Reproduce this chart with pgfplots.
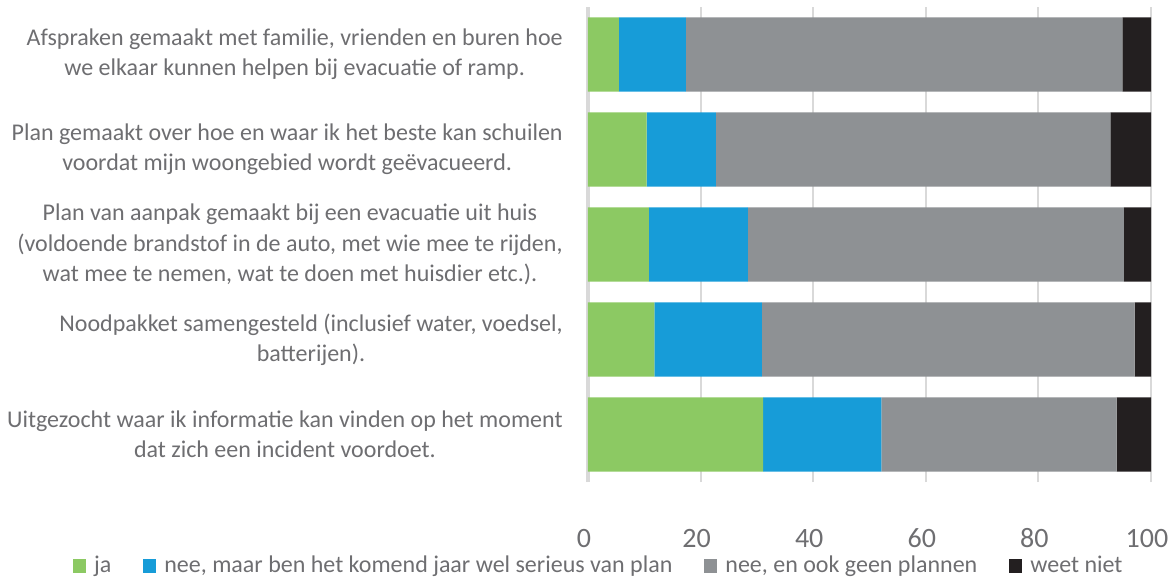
\documentclass[border=0pt]{standalone}
\usepackage{fontspec}
\setmainfont{Carlito}
\usepackage{pgfplots}
\pgfplotsset{compat=1.18}
\definecolor{cja}{HTML}{8CC963}
\definecolor{cplan}{HTML}{179CD8}
\definecolor{cgeen}{HTML}{8E9194}
\definecolor{cweet}{HTML}{231F20}
\definecolor{txt}{HTML}{6E6E71}
\definecolor{gridc}{HTML}{D9D9D9}
\begin{document}
\begin{tikzpicture}
\useasboundingbox (-294pt,-48pt) rectangle (291pt,241pt);
\begin{axis}[
  at={(0,0)}, anchor=south west,
  scale only axis, width=281.5pt, height=237.5pt,
  xbar stacked, bar width=0.78,
  xmin=0, xmax=100, ymin=-0.5, ymax=4.5,
  xtick={0,20,...,100}, ytick={0,...,4},
  yticklabels={
    {Uitgezocht waar ik informatie kan vinden op het moment\\dat zich een incident voordoet.},
    {Noodpakket samengesteld (inclusief water, voedsel,\\batterijen).},
    {Plan van aanpak gemaakt bij een evacuatie uit huis\\(voldoende brandstof in de auto, met wie mee te rijden,\\wat mee te nemen, wat te doen met huisdier etc.).},
    {Plan gemaakt over hoe en waar ik het beste kan schuilen\\voordat mijn woongebied wordt geëvacueerd.},
    {Afspraken gemaakt met familie, vrienden en buren hoe\\we elkaar kunnen helpen bij evacuatie of ramp.}},
  axis line style={draw=none},
  major tick length=0pt,
  xmajorgrids, grid style={gridc, line width=1pt},
  extra x ticks={0}, extra x tick labels={},
  extra x tick style={grid style={gridc, line width=1.6pt}},
  /pgf/number format/assume math mode=true,
  xticklabel style={font=\fontsize{14}{14}\selectfont, text=txt, anchor=base, yshift=-32.5pt, xshift=-2pt},
  yticklabel style={font=\fontsize{12}{15.2}\selectfont, text=txt, align=center, anchor=east, inner sep=0pt, xshift=-12.5pt},
  legend style={at={(0.021,-0.177)}, anchor=center, legend columns=4, draw=none, fill=none,
    font=\fontsize{12}{13}\selectfont, text=txt,
    /tikz/every odd column/.append style={column sep=2pt},
    /tikz/every even column/.append style={column sep=14pt}},
  legend image code/.code={\path[#1, draw=none] (0pt,-3.4pt) rectangle (6.5pt,3.4pt);},
]
\addplot[fill=cja, draw=none] coordinates {(31.1,0) (11.8,1) (10.8,2) (10.4,3) (5.5,4)};
\addplot[fill=cplan, draw=none] coordinates {(21.0,0) (19.1,1) (17.6,2) (12.3,3) (11.9,4)};
\addplot[fill=cgeen, draw=none] coordinates {(41.8,0) (66.2,1) (66.8,2) (70.1,3) (77.5,4)};
\addplot[fill=cweet, draw=none] coordinates {(6.1,0) (2.9,1) (4.8,2) (7.2,3) (5.1,4)};
\legend{ja, {nee, maar ben het komend jaar wel serieus van plan}, {nee, en ook geen plannen}, weet niet}
\end{axis}
\end{tikzpicture}
\end{document}
